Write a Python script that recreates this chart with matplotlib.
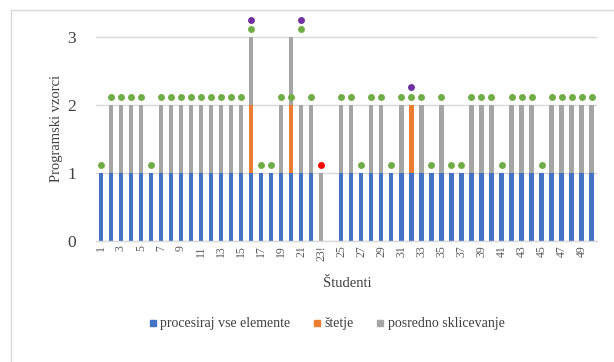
import numpy as np
import matplotlib
matplotlib.use('Agg')
from matplotlib import pyplot as plt
from matplotlib.lines import Line2D

plt.rcParams['font.family'] = ['Liberation Serif', 'DejaVu Serif']

# Categories (students)
students = [str(i) for i in range(1, 51)]
students[22] = '23!'

# Stacked bar values
procesiraj = [1, 1, 1, 1, 1, 1, 1, 1, 1, 1,
              1, 1, 1, 1, 1, 1, 1, 1, 1, 1,
              1, 1, 0, 0, 1, 1, 1, 1, 1, 1,
              1, 1, 1, 1, 1, 1, 1, 1, 1, 1,
              1, 1, 1, 1, 1, 1, 1, 1, 1, 1]
stetje = [0, 0, 0, 0, 0, 0, 0, 0, 0, 0,
          0, 0, 0, 0, 0, 1, 0, 0, 0, 1,
          0, 0, 0, 0, 0, 0, 0, 0, 0, 0,
          0, 1, 0, 0, 0, 0, 0, 0, 0, 0,
          0, 0, 0, 0, 0, 0, 0, 0, 0, 0]
posredno = [0, 1, 1, 1, 1, 0, 1, 1, 1, 1,
            1, 1, 1, 1, 1, 1, 0, 0, 1, 1,
            1, 1, 1, 0, 1, 1, 0, 1, 1, 0,
            1, 0, 1, 0, 1, 0, 0, 1, 1, 1,
            0, 1, 1, 1, 0, 1, 1, 1, 1, 1]

# Marker series above the bars
n = np.nan
green_dots = [1.12, 2.12, 2.12, 2.12, 2.12, 1.12, 2.12, 2.12, 2.12, 2.12,
              2.12, 2.12, 2.12, 2.12, 2.12, 3.12, 1.12, 1.12, 2.12, 2.12,
              3.12, 2.12, n, n, 2.12, 2.12, 1.12, 2.12, 2.12, 1.12,
              2.12, 2.12, 2.12, 1.12, 2.12, 1.12, 1.12, 2.12, 2.12, 2.12,
              1.12, 2.12, 2.12, 2.12, 1.12, 2.12, 2.12, 2.12, 2.12, 2.12]
red_dots = [n] * 50
red_dots[22] = 1.12
purple_dots = [n] * 50
purple_dots[15] = 3.25
purple_dots[20] = 3.25
purple_dots[31] = 2.26

c_blue = '#4472C4'
c_orange = '#ED7D31'
c_gray = '#A5A5A5'

fig = plt.figure(figsize=(6.14, 3.62), dpi=100)
ax = fig.add_axes([0.1559, 0.3343, 0.8159, 0.6207])

x = np.arange(1, 51)
p = np.array(procesiraj)
s = np.array(stetje)
g = np.array(posredno)
w = 0.44
ax.bar(x, p, w, color=c_blue, zorder=2)
ax.bar(x, s, w, bottom=p, color=c_orange, zorder=2)
ax.bar(x, g, w, bottom=p + s, color=c_gray, zorder=2)

ax.plot(x, green_dots, 'o', color='#70AD47', ms=5, mec='none', clip_on=False, zorder=3)
ax.plot(x, red_dots, 'o', color='#FF0000', ms=5, mec='none', clip_on=False, zorder=3)
ax.plot(x, purple_dots, 'o', color='#7030A0', ms=5, mec='none', clip_on=False, zorder=3)

ax.set_xlim(0.5, 50.5)
ax.set_ylim(0, 3.3)
ax.set_yticks([0, 1, 2, 3])
ax.set_xticks(x[::2])
ax.set_xticklabels(students[::2], rotation=90, fontsize=8.5, color='#595959')
ax.tick_params(axis='y', length=0, labelsize=12.5, labelcolor='#404040', pad=14)
ax.tick_params(axis='x', length=0, pad=3)
ax.yaxis.grid(True, color='#D9D9D9', linewidth=1, zorder=0)
ax.set_axisbelow(True)
for side in ['top', 'right', 'left']:
    ax.spines[side].set_visible(False)
ax.spines['bottom'].set_color('#D9D9D9')
ax.spines['bottom'].set_linewidth(1)

ax.set_ylabel('Programski vzorci', fontsize=10.5, color='#404040', labelpad=3)
fig.text(0.565, 0.218, 'Študenti', ha='center', va='center', fontsize=10.5, color='#404040')

handles = [Line2D([], [], marker='s', ls='none', color=c, ms=5) for c in (c_blue, c_orange, c_gray)]
fig.legend(handles, ['procesiraj vse elemente', 'štetje', 'posredno sklicevanje'],
           loc='center', bbox_to_anchor=(0.532, 0.105), ncol=3, frameon=False,
           fontsize=10, handlelength=0.6, handletextpad=0.25, columnspacing=1.6,
           labelcolor='#404040')

# chart border (only left and top visible in the crop)
fig.add_artist(Line2D([10.5 / 614, 10.5 / 614], [0, 1 - 10 / 362], color='#D9D9D9', lw=1))
fig.add_artist(Line2D([10.5 / 614, 1], [1 - 10 / 362, 1 - 10 / 362], color='#D9D9D9', lw=1))

plt.savefig('out.png', dpi=100)
